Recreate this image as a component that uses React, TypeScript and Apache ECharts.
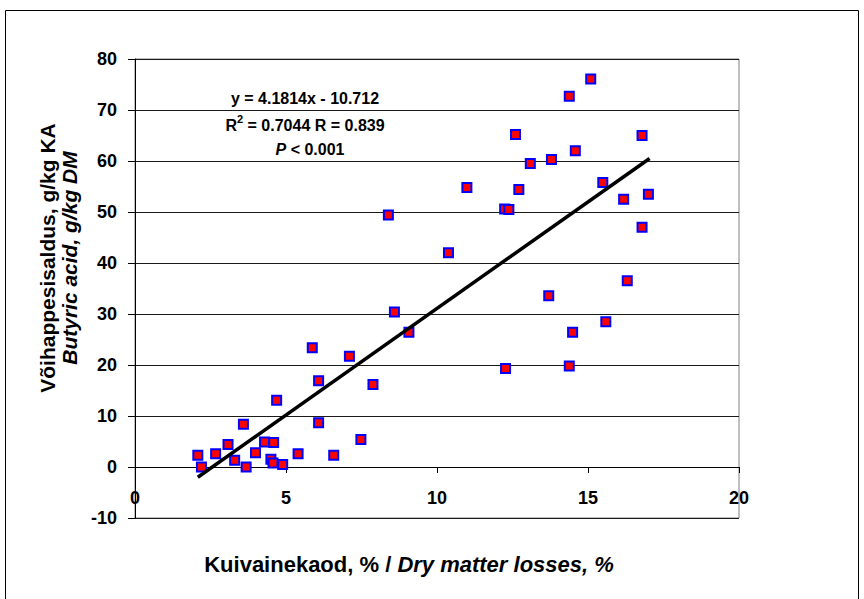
import React, { useEffect, useRef } from "react";
import * as echarts from "echarts";

// Dry matter losses, % (x) and butyric acid, g/kg DM (y)
const dmLosses = [
  2.08, 2.2, 2.67, 3.08, 3.3, 3.68, 3.59, 3.99, 4.29, 4.59, 4.5, 4.57, 4.89, 4.69,
  5.4, 5.87, 6.08, 6.08, 6.58, 7.1, 7.48, 7.88, 8.39, 8.59, 9.07, 10.38, 10.99,
  12.24, 12.38, 12.27, 12.6, 12.71, 13.09, 13.79, 13.7, 14.38, 15.09, 14.58, 14.49,
  14.38, 15.49, 15.59, 16.18, 16.3, 16.79, 16.79, 17.0,
];
const butyricAcid = [
  2.3, 0.0, 2.6, 4.4, 1.3, 0.0, 8.4, 2.8, 4.9, 4.8, 1.5, 0.8, 0.5, 13.1,
  2.6, 23.4, 16.9, 8.7, 2.3, 21.7, 5.4, 16.2, 49.4, 30.4, 26.4, 42.0, 54.8,
  50.6, 50.5, 19.3, 65.2, 54.4, 59.5, 60.3, 33.6, 72.7, 76.1, 62.0, 26.4,
  19.8, 55.8, 28.5, 52.5, 36.5, 65.0, 47.0, 53.5,
];
// Linear trend line end points
const trendX = [2.08, 17.04];
const trendY = [-2.0, 60.5];

const xTicks = { min: 0, max: 20, interval: 5 };
const yTicks = { min: -10, max: 80, interval: 10 };

const FONT = "'Liberation Sans', Arial, Helvetica, sans-serif";

const GRID_TOP = 59;
const GRID_BOTTOM = 81;
const PLOT_H = 599 - GRID_TOP - GRID_BOTTOM;

export default function App() {
  const ref = useRef<HTMLDivElement>(null);
  useEffect(() => {
    if (!ref.current) return;
    const chart = echarts.init(ref.current, undefined, { renderer: "svg" });
    const points = dmLosses.map((x, i) => [x, butyricAcid[i]]);
    const trend = trendX.map((x, i) => [x, trendY[i]]);
    // x axis sits on y = 0: shift it up from the plot bottom by the height of (0 - min)
    const zeroOffset = -((0 - yTicks.min) / (yTicks.max - yTicks.min)) * PLOT_H;
    chart.setOption({
      animation: false,
      backgroundColor: "#ffffff",
      grid: {
        left: 135,
        right: 125,
        top: GRID_TOP,
        bottom: GRID_BOTTOM,
        show: true,
        borderColor: "#808080",
        borderWidth: 1,
        containLabel: false,
      },
      xAxis: {
        type: "value",
        min: xTicks.min,
        max: xTicks.max,
        interval: xTicks.interval,
        offset: zeroOffset,
        axisLine: { show: true, onZero: false, lineStyle: { color: "#000", width: 1 } },
        axisTick: { show: true, length: 6, lineStyle: { color: "#000" } },
        axisLabel: {
          color: "#000",
          fontSize: 18,
          fontWeight: "bold",
          fontFamily: FONT,
          margin: 22,
        },
        splitLine: { show: false },
      },
      yAxis: {
        type: "value",
        min: yTicks.min,
        max: yTicks.max,
        interval: yTicks.interval,
        axisLine: { show: true, onZero: false, lineStyle: { color: "#000", width: 1 } },
        axisTick: { show: true, length: 7, lineStyle: { color: "#000" } },
        axisLabel: {
          color: "#000",
          fontSize: 18,
          fontWeight: "bold",
          fontFamily: FONT,
          margin: 18,
        },
        splitLine: { show: true, lineStyle: { color: "#1a1a1a", width: 1 } },
      },
      series: [
        {
          type: "scatter",
          data: points,
          symbol: "rect",
          symbolSize: 9,
          itemStyle: { color: "#ff0000", borderColor: "#0000ff", borderWidth: 2, opacity: 1 },
          z: 2,
        },
        {
          type: "line",
          data: trend,
          symbol: "none",
          lineStyle: { color: "#000", width: 3.5 },
          z: 3,
        },
      ],
      graphic: [
        {
          type: "rect",
          shape: { x: 5.5, y: 10.5, width: 853, height: 620 },
          style: { fill: "none", stroke: "#000", lineWidth: 1 },
          silent: true,
        },
        {
          type: "text",
          x: 305,
          y: 98,
          style: {
            text: "y = 4.1814x - 10.712",
            font: `bold 16px ${FONT}`,
            fill: "#000",
            align: "center",
            verticalAlign: "middle",
          },
        },
        {
          type: "text",
          x: 305,
          y: 123,
          style: {
            text: "{a|R}{s|2}{a| = 0.7044 R = 0.839}",
            align: "center",
            verticalAlign: "middle",
            rich: {
              a: { fontSize: 16, fontWeight: "bold", fontFamily: FONT, fill: "#000", lineHeight: 20, verticalAlign: "bottom" },
              s: { fontSize: 11, fontWeight: "bold", fontFamily: FONT, fill: "#000", lineHeight: 20, verticalAlign: "top" },
            },
          },
        },
        {
          type: "text",
          x: 310,
          y: 149,
          style: {
            text: "{i|P}{a| < 0.001}",
            align: "center",
            verticalAlign: "middle",
            rich: {
              a: { fontSize: 16, fontWeight: "bold", fontFamily: FONT, fill: "#000" },
              i: { fontSize: 16, fontWeight: "bold", fontStyle: "italic", fontFamily: FONT, fill: "#000" },
            },
          },
        },
        {
          type: "text",
          x: 47,
          y: 258,
          rotation: Math.PI / 2,
          style: {
            text: "Võihappesisaldus, g/kg KA",
            font: `bold 21px ${FONT}`,
            fill: "#000",
            align: "center",
            verticalAlign: "middle",
          },
        },
        {
          type: "text",
          x: 69,
          y: 258,
          rotation: Math.PI / 2,
          style: {
            text: "Butyric acid, g/kg DM",
            font: `italic bold 21px ${FONT}`,
            fill: "#000",
            align: "center",
            verticalAlign: "middle",
          },
        },
        {
          type: "text",
          x: 409,
          y: 564,
          style: {
            text: "{a|Kuivainekaod, % / }{i|Dry matter losses, %}",
            align: "center",
            verticalAlign: "middle",
            rich: {
              a: { fontSize: 22, fontWeight: "bold", fontFamily: FONT, fill: "#000" },
              i: { fontSize: 22, fontWeight: "bold", fontStyle: "italic", fontFamily: FONT, fill: "#000" },
            },
          },
        },
      ],
    });
    return () => chart.dispose();
  }, []);
  return (
    <div
      ref={ref}
      style={{ position: "fixed", left: 0, top: 0, width: 864, height: 599, background: "#fff" }}
    />
  );
}
